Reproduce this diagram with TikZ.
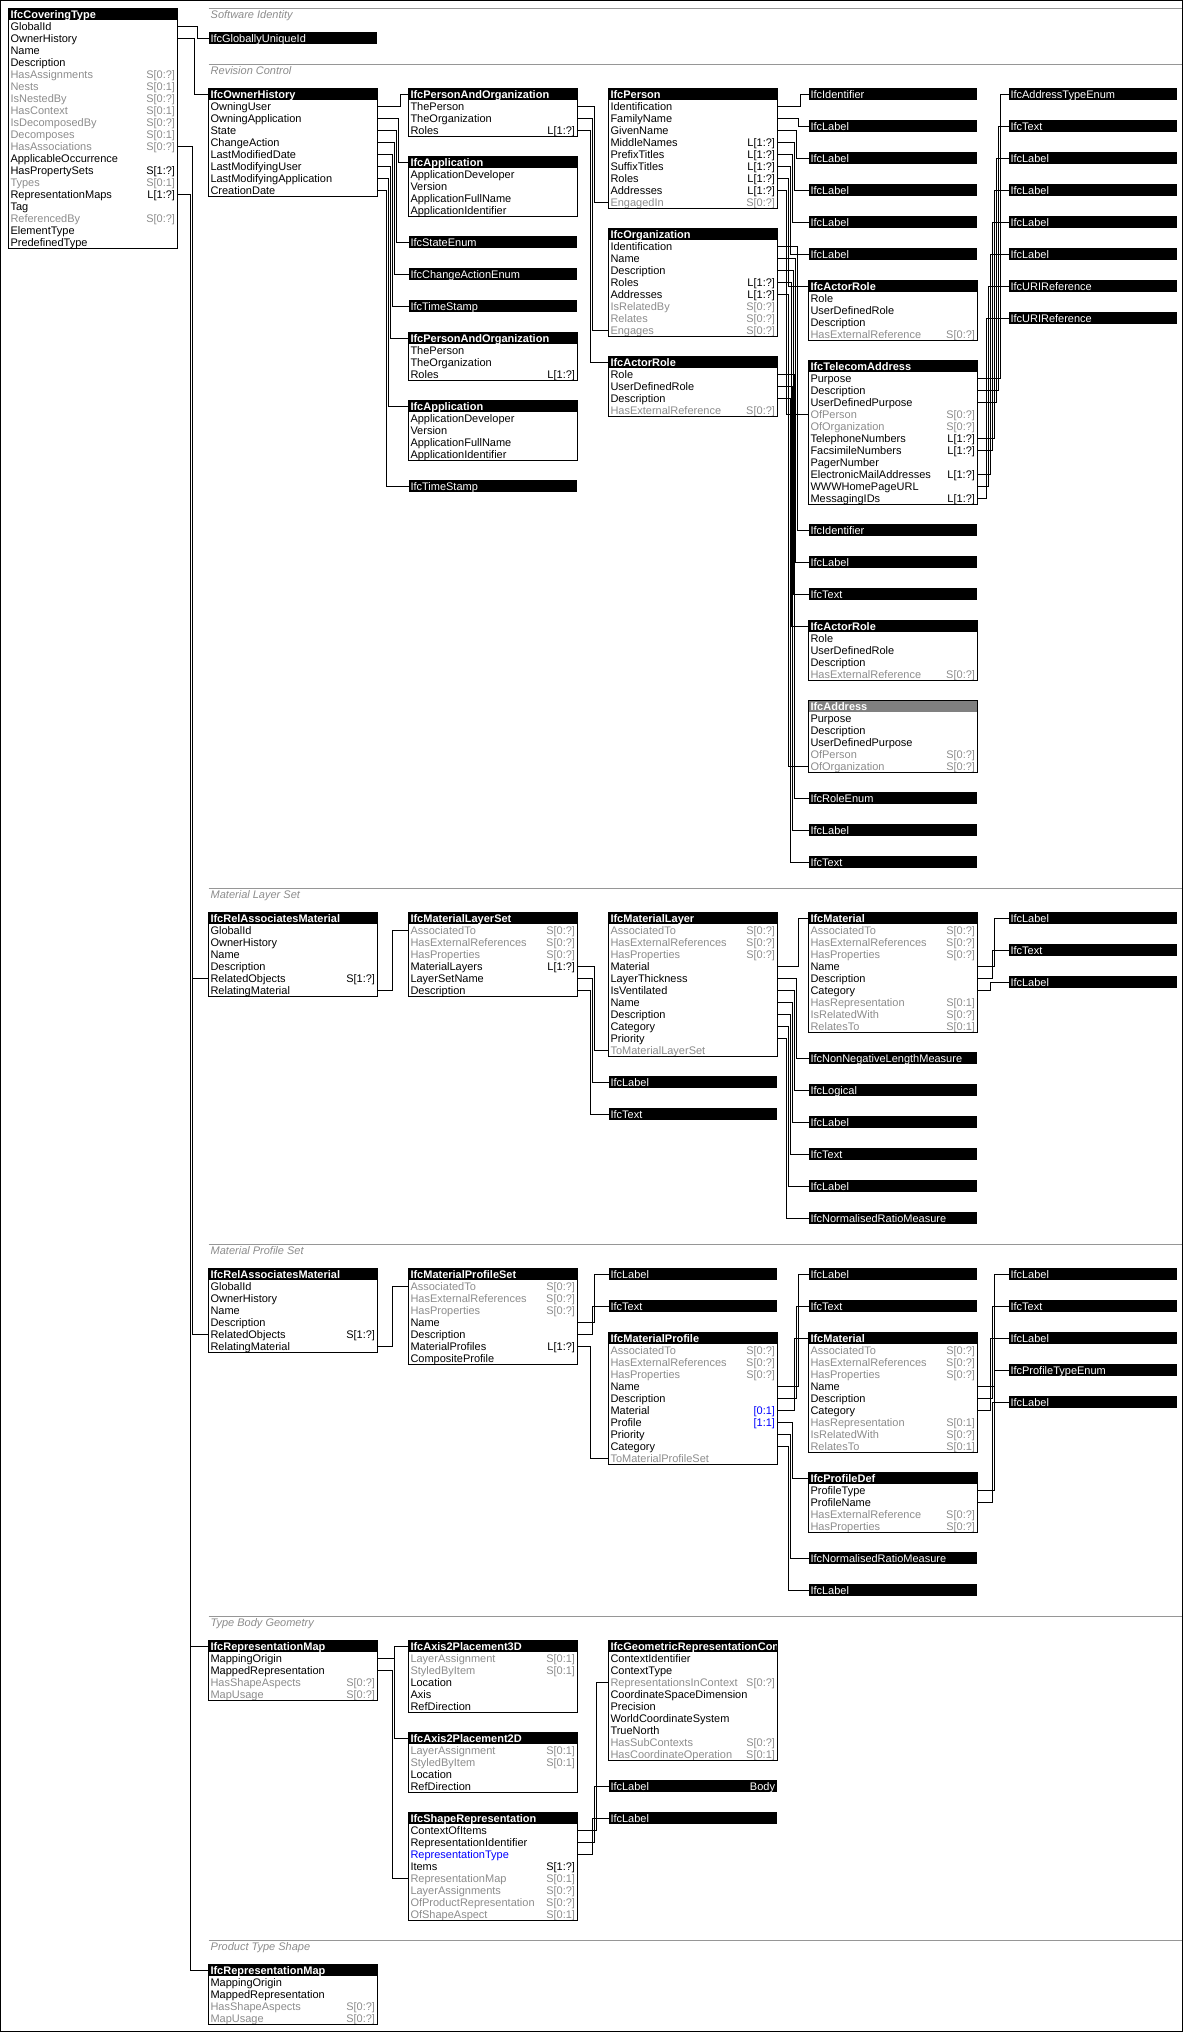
\documentclass[tikz,border=0pt]{standalone}
\usepackage{fontspec}
\setmainfont{Liberation Sans}

\definecolor{ifcgray}{RGB}{140,140,140}
\definecolor{ifcblue}{RGB}{0,0,255}
\definecolor{seccolor}{RGB}{150,150,150}
\definecolor{absfill}{RGB}{128,128,128}
\def\boxw{164.5pt}

% class box: [header style]{name}{x}{y top}{title}{rows text/card/colour}
\newcommand{\classbox}[6][hdr]{%
    \begin{scope}
        \clip (#3,#4) rectangle ++(168.5,12);
        \node[#1] (#2) at (#3,#4) {\makebox[\boxw][l]{#5}};
    \end{scope}
    \foreach \txt/\card/\col [count=\i] in {#6} {
        \node[attr, text=\col] (#2-\i) at (#3,#4+12*\i) {\makebox[\boxw][l]{\txt\hfill\card}};
        \xdef\lastrow{\i}
    }
    \draw[boxline] (#2.north west) rectangle (#2-\lastrow.south east);
}
\newcommand{\typebar}[4]{\node[tbar] (#1) at (#2,#3) {\makebox[\boxw][l]{#4}};}
\newcommand{\wirelink}[3]{\draw[wire] (#1.east) -- ++(#2,0) |- (#3.west);}

\begin{document}
\begin{tikzpicture}[
        x=1pt, y=-1pt,
        font=\fontsize{11}{12}\selectfont,
        ifccell/.style={anchor=north west, inner xsep=2pt, inner ysep=0pt, outer sep=0pt, text height=10.5pt, text depth=1.5pt},
        hdr/.style={ifccell, fill=black, text=white, font=\fontsize{11}{12}\selectfont\bfseries},
        abshdr/.style={hdr, fill=absfill},
        attr/.style={ifccell},
        tbar/.style={ifccell, fill=black, text=white},
        boxline/.style={draw=black, line width=1pt},
        wire/.style={draw=black, line width=1pt},
        sect/.style={draw=seccolor, line width=1pt},
        secttitle/.style={anchor=base west, inner sep=0pt, text=ifcgray, font=\fontsize{11}{12}\selectfont\itshape},
    ]

    \useasboundingbox (0,0) rectangle (1184,2032);
    \draw[line width=1pt] (0.5,0.5) rectangle (1182.5,2031.5);

    % Section rules and titles
    \foreach \y/\title [count=\s] in {8.3/Software Identity, 64.3/Revision Control, 888.3/Material Layer Set,
            1244.3/Material Profile Set, 1616.3/Type Body Geometry, 1940.3/Product Type Shape} {
        \draw[sect] (208.5,\y) -- (1182,\y);
        \node[secttitle] (title-\s) at (210.5,\y+10) {\title};
    }

    % Draw the covering type
    \classbox{cov}{8.5}{8.3}{IfcCoveringType}{GlobalId/{}/black, OwnerHistory/{}/black, Name/{}/black,
        Description/{}/black, HasAssignments/{S[0:?]}/ifcgray, Nests/{S[0:1]}/ifcgray,
        IsNestedBy/{S[0:?]}/ifcgray, HasContext/{S[0:1]}/ifcgray, IsDecomposedBy/{S[0:?]}/ifcgray,
        Decomposes/{S[0:1]}/ifcgray, HasAssociations/{S[0:?]}/ifcgray, ApplicableOccurrence/{}/black,
        HasPropertySets/{S[1:?]}/black, Types/{S[0:1]}/ifcgray, RepresentationMaps/{L[1:?]}/black,
        Tag/{}/black, ReferencedBy/{S[0:?]}/ifcgray, ElementType/{}/black, PredefinedType/{}/black}

    % Software identity
    \typebar{guid}{208.5}{32.3}{IfcGloballyUniqueId}

    % Revision control
    \classbox{oh}{208.5}{88.3}{IfcOwnerHistory}{OwningUser/{}/black, OwningApplication/{}/black,
        State/{}/black, ChangeAction/{}/black, LastModifiedDate/{}/black, LastModifyingUser/{}/black,
        LastModifyingApplication/{}/black, CreationDate/{}/black}
    \classbox{pao1}{408.5}{88.3}{IfcPersonAndOrganization}{ThePerson/{}/black, TheOrganization/{}/black,
        Roles/{L[1:?]}/black}
    \classbox{app1}{408.5}{156.3}{IfcApplication}{ApplicationDeveloper/{}/black, Version/{}/black,
        ApplicationFullName/{}/black, ApplicationIdentifier/{}/black}
    \classbox{pao2}{408.5}{332.3}{IfcPersonAndOrganization}{ThePerson/{}/black, TheOrganization/{}/black,
        Roles/{L[1:?]}/black}
    \classbox{app2}{408.5}{400.3}{IfcApplication}{ApplicationDeveloper/{}/black, Version/{}/black,
        ApplicationFullName/{}/black, ApplicationIdentifier/{}/black}
    \foreach \name/\y/\txt in {state/236.3/IfcStateEnum, chg/268.3/IfcChangeActionEnum,
            ts1/300.3/IfcTimeStamp, ts2/480.3/IfcTimeStamp} {
        \typebar{\name}{408.5}{\y}{\txt}
    }

    \classbox{per}{608.5}{88.3}{IfcPerson}{Identification/{}/black, FamilyName/{}/black, GivenName/{}/black,
        MiddleNames/{L[1:?]}/black, PrefixTitles/{L[1:?]}/black, SuffixTitles/{L[1:?]}/black,
        Roles/{L[1:?]}/black, Addresses/{L[1:?]}/black, EngagedIn/{S[0:?]}/ifcgray}
    \classbox{org}{608.5}{228.3}{IfcOrganization}{Identification/{}/black, Name/{}/black, Description/{}/black,
        Roles/{L[1:?]}/black, Addresses/{L[1:?]}/black, IsRelatedBy/{S[0:?]}/ifcgray,
        Relates/{S[0:?]}/ifcgray, Engages/{S[0:?]}/ifcgray}
    \classbox{role1}{608.5}{356.3}{IfcActorRole}{Role/{}/black, UserDefinedRole/{}/black,
        Description/{}/black, HasExternalReference/{S[0:?]}/ifcgray}

    \typebar{pid}{808.5}{88.3}{IfcIdentifier}
    \foreach \n in {1,...,5} {
        \typebar{plab\n}{808.5}{88.3+32*\n}{IfcLabel}
    }
    \classbox{role2}{808.5}{280.3}{IfcActorRole}{Role/{}/black, UserDefinedRole/{}/black,
        Description/{}/black, HasExternalReference/{S[0:?]}/ifcgray}
    \classbox{tel}{808.5}{360.3}{IfcTelecomAddress}{Purpose/{}/black, Description/{}/black,
        UserDefinedPurpose/{}/black, OfPerson/{S[0:?]}/ifcgray, OfOrganization/{S[0:?]}/ifcgray,
        TelephoneNumbers/{L[1:?]}/black, FacsimileNumbers/{L[1:?]}/black, PagerNumber/{}/black,
        ElectronicMailAddresses/{L[1:?]}/black, WWWHomePageURL/{}/black, MessagingIDs/{L[1:?]}/black}
    \foreach \name/\y/\txt in {oid/524.3/IfcIdentifier, olab/556.3/IfcLabel, otxt/588.3/IfcText} {
        \typebar{\name}{808.5}{\y}{\txt}
    }
    \classbox{role3}{808.5}{620.3}{IfcActorRole}{Role/{}/black, UserDefinedRole/{}/black,
        Description/{}/black, HasExternalReference/{S[0:?]}/ifcgray}
    \classbox[abshdr]{addr}{808.5}{700.3}{IfcAddress}{Purpose/{}/black, Description/{}/black,
        UserDefinedPurpose/{}/black, OfPerson/{S[0:?]}/ifcgray, OfOrganization/{S[0:?]}/ifcgray}
    \foreach \name/\y/\txt in {renum/792.3/IfcRoleEnum, rlab/824.3/IfcLabel, rtxt/856.3/IfcText} {
        \typebar{\name}{808.5}{\y}{\txt}
    }

    \foreach \name/\y/\txt in {aenum/88.3/IfcAddressTypeEnum, atxt/120.3/IfcText, alab1/152.3/IfcLabel,
            alab2/184.3/IfcLabel, alab3/216.3/IfcLabel, alab4/248.3/IfcLabel,
            uri1/280.3/IfcURIReference, uri2/312.3/IfcURIReference} {
        \typebar{\name}{1008.5}{\y}{\txt}
    }

    % Material layer set
    \classbox{ram1}{208.5}{912.3}{IfcRelAssociatesMaterial}{GlobalId/{}/black, OwnerHistory/{}/black,
        Name/{}/black, Description/{}/black, RelatedObjects/{S[1:?]}/black, RelatingMaterial/{}/black}
    \classbox{mls}{408.5}{912.3}{IfcMaterialLayerSet}{AssociatedTo/{S[0:?]}/ifcgray,
        HasExternalReferences/{S[0:?]}/ifcgray, HasProperties/{S[0:?]}/ifcgray,
        MaterialLayers/{L[1:?]}/black, LayerSetName/{}/black, Description/{}/black}
    \classbox{ml}{608.5}{912.3}{IfcMaterialLayer}{AssociatedTo/{S[0:?]}/ifcgray,
        HasExternalReferences/{S[0:?]}/ifcgray, HasProperties/{S[0:?]}/ifcgray, Material/{}/black,
        LayerThickness/{}/black, IsVentilated/{}/black, Name/{}/black, Description/{}/black,
        Category/{}/black, Priority/{}/black, ToMaterialLayerSet/{}/ifcgray}
    \typebar{mllab}{608.5}{1076.3}{IfcLabel}
    \typebar{mltxt}{608.5}{1108.3}{IfcText}
    \classbox{mat1}{808.5}{912.3}{IfcMaterial}{AssociatedTo/{S[0:?]}/ifcgray,
        HasExternalReferences/{S[0:?]}/ifcgray, HasProperties/{S[0:?]}/ifcgray, Name/{}/black,
        Description/{}/black, Category/{}/black, HasRepresentation/{S[0:1]}/ifcgray,
        IsRelatedWith/{S[0:?]}/ifcgray, RelatesTo/{S[0:1]}/ifcgray}
    \foreach \name/\y/\txt in {lthk/1052.3/IfcNonNegativeLengthMeasure, lvent/1084.3/IfcLogical,
            lname/1116.3/IfcLabel, ldesc/1148.3/IfcText, lcat/1180.3/IfcLabel,
            lprio/1212.3/IfcNormalisedRatioMeasure} {
        \typebar{\name}{808.5}{\y}{\txt}
    }
    \foreach \name/\y/\txt in {mname1/912.3/IfcLabel, mdesc1/944.3/IfcText, mcat1/976.3/IfcLabel} {
        \typebar{\name}{1008.5}{\y}{\txt}
    }

    % Material profile set
    \classbox{ram2}{208.5}{1268.3}{IfcRelAssociatesMaterial}{GlobalId/{}/black, OwnerHistory/{}/black,
        Name/{}/black, Description/{}/black, RelatedObjects/{S[1:?]}/black, RelatingMaterial/{}/black}
    \classbox{mps}{408.5}{1268.3}{IfcMaterialProfileSet}{AssociatedTo/{S[0:?]}/ifcgray,
        HasExternalReferences/{S[0:?]}/ifcgray, HasProperties/{S[0:?]}/ifcgray, Name/{}/black,
        Description/{}/black, MaterialProfiles/{L[1:?]}/black, CompositeProfile/{}/black}
    \typebar{pslab}{608.5}{1268.3}{IfcLabel}
    \typebar{pstxt}{608.5}{1300.3}{IfcText}
    \classbox{mp}{608.5}{1332.3}{IfcMaterialProfile}{AssociatedTo/{S[0:?]}/ifcgray,
        HasExternalReferences/{S[0:?]}/ifcgray, HasProperties/{S[0:?]}/ifcgray, Name/{}/black,
        Description/{}/black, Material/{\textcolor{ifcblue}{[0:1]}}/black,
        Profile/{\textcolor{ifcblue}{[1:1]}}/black, Priority/{}/black, Category/{}/black,
        ToMaterialProfileSet/{}/ifcgray}
    \typebar{plab}{808.5}{1268.3}{IfcLabel}
    \typebar{ptxt}{808.5}{1300.3}{IfcText}
    \classbox{mat2}{808.5}{1332.3}{IfcMaterial}{AssociatedTo/{S[0:?]}/ifcgray,
        HasExternalReferences/{S[0:?]}/ifcgray, HasProperties/{S[0:?]}/ifcgray, Name/{}/black,
        Description/{}/black, Category/{}/black, HasRepresentation/{S[0:1]}/ifcgray,
        IsRelatedWith/{S[0:?]}/ifcgray, RelatesTo/{S[0:1]}/ifcgray}
    \classbox{pdef}{808.5}{1472.3}{IfcProfileDef}{ProfileType/{}/black, ProfileName/{}/black,
        HasExternalReference/{S[0:?]}/ifcgray, HasProperties/{S[0:?]}/ifcgray}
    \typebar{pprio}{808.5}{1552.3}{IfcNormalisedRatioMeasure}
    \typebar{pcat}{808.5}{1584.3}{IfcLabel}
    \foreach \name/\y/\txt in {mname2/1268.3/IfcLabel, mdesc2/1300.3/IfcText, mcat2/1332.3/IfcLabel,
            ptype/1364.3/IfcProfileTypeEnum, pname/1396.3/IfcLabel} {
        \typebar{\name}{1008.5}{\y}{\txt}
    }

    % Type body geometry
    \classbox{rmap1}{208.5}{1640.3}{IfcRepresentationMap}{MappingOrigin/{}/black,
        MappedRepresentation/{}/black, HasShapeAspects/{S[0:?]}/ifcgray, MapUsage/{S[0:?]}/ifcgray}
    \classbox{ax3}{408.5}{1640.3}{IfcAxis2Placement3D}{LayerAssignment/{S[0:1]}/ifcgray,
        StyledByItem/{S[0:1]}/ifcgray, Location/{}/black, Axis/{}/black, RefDirection/{}/black}
    \classbox{ax2}{408.5}{1732.3}{IfcAxis2Placement2D}{LayerAssignment/{S[0:1]}/ifcgray,
        StyledByItem/{S[0:1]}/ifcgray, Location/{}/black, RefDirection/{}/black}
    \classbox{shr}{408.5}{1812.3}{IfcShapeRepresentation}{ContextOfItems/{}/black,
        RepresentationIdentifier/{}/black, RepresentationType/{}/ifcblue, Items/{S[1:?]}/black,
        RepresentationMap/{S[0:1]}/ifcgray, LayerAssignments/{S[0:?]}/ifcgray,
        OfProductRepresentation/{S[0:?]}/ifcgray, OfShapeAspect/{S[0:1]}/ifcgray}
    \classbox{grc}{608.5}{1640.3}{IfcGeometricRepresentationCont}{ContextIdentifier/{}/black,
        ContextType/{}/black, RepresentationsInContext/{S[0:?]}/ifcgray,
        CoordinateSpaceDimension/{}/black, Precision/{}/black, WorldCoordinateSystem/{}/black,
        TrueNorth/{}/black, HasSubContexts/{S[0:?]}/ifcgray, HasCoordinateOperation/{S[0:1]}/ifcgray}
    \typebar{blab}{608.5}{1780.3}{IfcLabel\hfill Body}
    \typebar{tlab}{608.5}{1812.3}{IfcLabel}

    % Product type shape
    \classbox{rmap2}{208.5}{1964.3}{IfcRepresentationMap}{MappingOrigin/{}/black,
        MappedRepresentation/{}/black, HasShapeAspects/{S[0:?]}/ifcgray, MapUsage/{S[0:?]}/ifcgray}

    % Connect the covering type with its sections
    \wirelink{cov-1}{20}{guid}
    \wirelink{cov-2}{17.5}{oh}
    \wirelink{cov-11}{15.5}{ram1-5}
    \wirelink{cov-11}{15.5}{ram2-5}
    \wirelink{cov-15}{13.5}{rmap1}
    \wirelink{cov-15}{13.5}{rmap2}

    % Revision control connectors
    \foreach \r/\d/\t in {1/23.5/pao1, 2/21.5/app1, 3/19.5/state, 4/17.5/chg, 5/15.5/ts1,
            6/13.5/pao2, 7/11.5/app2, 8/9.5/ts2} {
        \wirelink{oh-\r}{\d}{\t}
    }
    \foreach \r/\d/\t in {1/17.5/per-9, 2/15.5/org-8, 3/13.5/role1} {
        \wirelink{pao1-\r}{\d}{\t}
    }
    \foreach \r/\d/\t in {1/23.5/pid, 2/21.5/plab1, 3/19.5/plab2, 4/17.5/plab3, 5/15.5/plab4,
            6/13.5/plab5, 7/11.5/role2, 8/9.5/tel-4} {
        \wirelink{per-\r}{\d}{\t}
    }
    \foreach \r/\d/\t in {1/20/oid, 2/18/olab, 3/16/otxt, 4/14/role3, 5/11.5/addr-5} {
        \wirelink{org-\r}{\d}{\t}
    }
    \foreach \r/\d/\t in {1/17/renum, 2/15/rlab, 3/13/rtxt} {
        \wirelink{role1-\r}{\d}{\t}
    }
    \foreach \r/\d/\t in {1/23.5/aenum, 2/21.5/atxt, 3/19.5/alab1, 6/17.5/alab2, 7/15.5/alab3,
            9/13.5/alab4, 10/11.5/uri1, 11/9.5/uri2} {
        \wirelink{tel-\r}{\d}{\t}
    }

    % Material layer set connectors
    \wirelink{ram1-6}{15.5}{mls-1}
    \foreach \r/\d/\t in {4/17.5/ml-11, 5/15.5/mllab, 6/13.5/mltxt} {
        \wirelink{mls-\r}{\d}{\t}
    }
    \foreach \r/\d/\t in {4/21.5/mat1, 5/19.5/lthk, 6/17.5/lvent, 7/15.5/lname, 8/13.5/ldesc,
            9/11.5/lcat, 10/9.5/lprio} {
        \wirelink{ml-\r}{\d}{\t}
    }
    \foreach \r/\d/\t in {4/17.5/mname1, 5/15.5/mdesc1, 6/13.5/mcat1} {
        \wirelink{mat1-\r}{\d}{\t}
    }

    % Material profile set connectors
    \wirelink{ram2-6}{15.5}{mps-1}
    \foreach \r/\d/\t in {4/17.5/pslab, 5/15.5/pstxt, 6/13.5/mp-10} {
        \wirelink{mps-\r}{\d}{\t}
    }
    \foreach \r/\d/\t in {4/21.5/plab, 5/19.5/ptxt, 6/17.5/mat2, 7/15.5/pdef, 8/13.5/pprio, 9/11.5/pcat} {
        \wirelink{mp-\r}{\d}{\t}
    }
    \foreach \r/\d/\t in {4/17.5/mname2, 5/15.5/mdesc2, 6/13.5/mcat2} {
        \wirelink{mat2-\r}{\d}{\t}
    }
    \wirelink{pdef-1}{17.5}{ptype}
    \wirelink{pdef-2}{15.5}{pname}

    % Type body geometry connectors
    \wirelink{rmap1-1}{17.5}{ax3}
    \wirelink{rmap1-1}{17.5}{ax2}
    \wirelink{rmap1-2}{15.5}{shr-5}
    \foreach \r/\d/\t in {1/19.5/grc-3, 2/17.5/blab, 3/15.5/tlab} {
        \wirelink{shr-\r}{\d}{\t}
    }
\end{tikzpicture}
\end{document}
